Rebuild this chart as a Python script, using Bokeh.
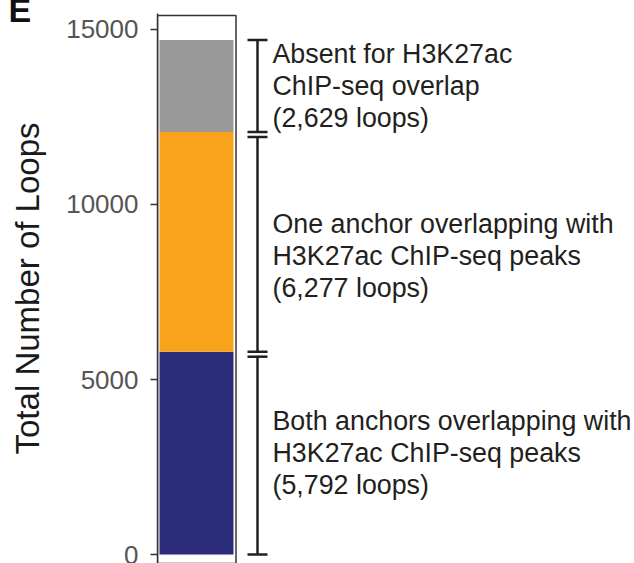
from bokeh.plotting import figure
from bokeh.models import Range1d, FixedTicker, ColumnDataSource, Title
from bokeh.core.properties import value
from bokeh.embed import file_html
from bokeh.resources import INLINE

# Loop counts, stacked from the bottom
categories = ["Both anchors", "One anchor", "Absent"]
loop_counts = [5792, 6277, 2629]
segment_colors = ["#2b2d7b", "#f9a31a", "#999999"]
segment_texts = [
    "Both anchors overlapping with\nH3K27ac ChIP-seq peaks\n(5,792 loops)",
    "One anchor overlapping with\nH3K27ac ChIP-seq peaks\n(6,277 loops)",
    "Absent for H3K27ac\nChIP-seq overlap\n(2,629 loops)",
]
y_ticks = [0, 5000, 10000, 15000]

FONT = "Liberation Sans"
INK = "#231f20"

p = figure(
    width=634, height=563,
    output_backend="svg", toolbar_location=None,
    x_axis_location=None,
    x_range=Range1d(0, 477), y_range=Range1d(-257, 15457),
    min_border_left=157, min_border_right=0,
    min_border_top=13, min_border_bottom=0,
)
p.outline_line_color = None
p.grid.visible = False
p.background_fill_color = "white"
p.border_fill_color = "white"

# panel letter in the top-left corner
p.title = Title(text="E", align="left", offset=-149, standoff=-30,
                text_font=FONT, text_font_size="34px", text_font_style="bold",
                text_color="#111111")

# cumulative stack bounds
bottoms, tops = [], []
acc = 0
for v in loop_counts:
    bottoms.append(acc)
    acc += v
    tops.append(acc)

bar_src = ColumnDataSource(dict(cat=categories, bottom=bottoms, top=tops, color=segment_colors))
p.vbar(x=39, width=74, bottom="bottom", top="top", fill_color="color",
       line_color=None, source=bar_src)

# box round the bar
p.quad(left=0, right=78.5, bottom=-257, top=15400, fill_color=None,
       line_color="#333333", line_width=1.5)

# brackets beside each segment; lower brackets stop just short of the one above
gap = 140
bx = 100
cap = 10
br_bottom = list(bottoms)
br_top = [t - gap if i < len(tops) - 1 else t for i, t in enumerate(tops)]
p.segment(x0=bx, x1=bx, y0=br_bottom, y1=br_top, line_color=INK, line_width=2.5)
p.segment(x0=bx - cap, x1=bx + cap, y0=br_bottom, y1=br_bottom, line_color=INK, line_width=2.5)
p.segment(x0=bx - cap, x1=bx + cap, y0=br_top, y1=br_top, line_color=INK, line_width=2.5)

mids = [(b + t) / 2 for b, t in zip(br_bottom, tops)]
text_shift = [0, 14, 0]
txt_src = ColumnDataSource(dict(y=mids, text=segment_texts, dy=text_shift))
p.text(x=115, y="y", text="text", y_offset="dy", source=txt_src,
       text_font=value(FONT), text_font_size="26.8px", text_color=INK,
       text_baseline="middle", text_align="left", text_line_height=1.055)

ax = p.yaxis[0]
ax.ticker = FixedTicker(ticks=y_ticks)
ax.minor_tick_line_color = None
ax.major_tick_out = 7
ax.major_tick_in = 0
ax.major_tick_line_color = "#333333"
ax.major_tick_line_width = 1.5
ax.axis_line_color = "#333333"
ax.axis_line_width = 1.5
ax.major_label_text_font = FONT
ax.major_label_text_font_size = "26px"
ax.major_label_text_color = "#555555"
ax.major_label_standoff = 12
ax.axis_label = "Total Number of Loops"
ax.axis_label_text_font = FONT
ax.axis_label_text_font_size = "33px"
ax.axis_label_text_font_style = "normal"
ax.axis_label_text_color = "#1a1a1a"
ax.axis_label_standoff = 17

open("out.html", "w").write(file_html(p, INLINE))
